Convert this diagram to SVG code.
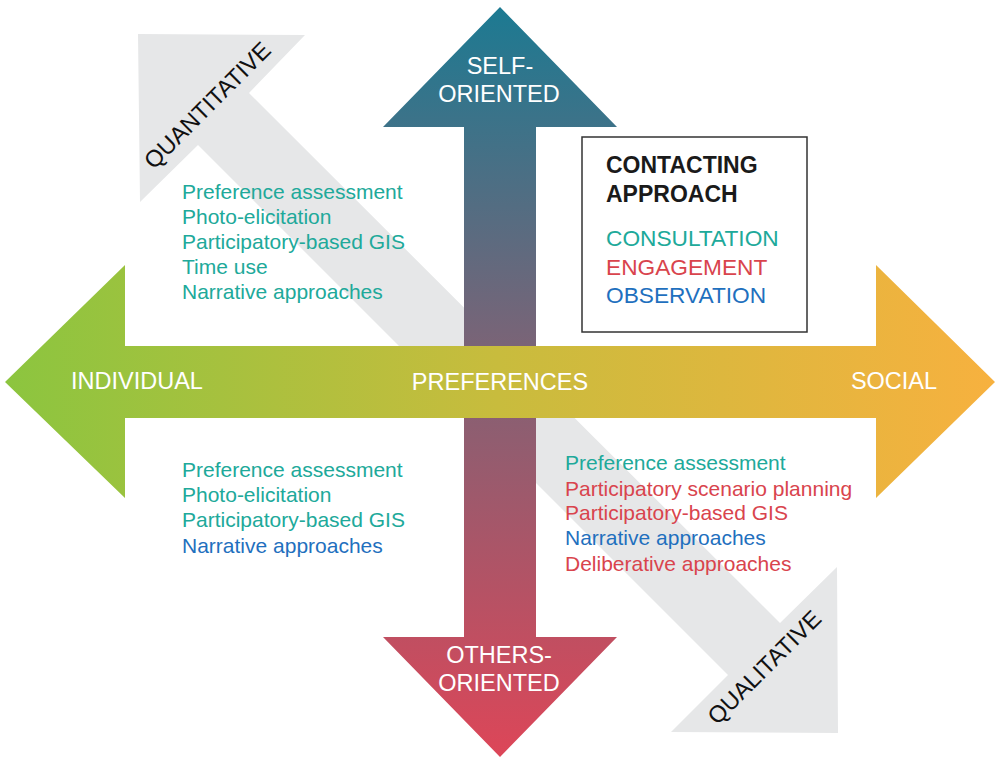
<svg xmlns="http://www.w3.org/2000/svg" width="995" height="758" viewBox="0 0 995 758">
<defs>
<linearGradient id="gH" x1="0" y1="0" x2="995" y2="0" gradientUnits="userSpaceOnUse">
<stop offset="0" stop-color="#8bc53f"/>
<stop offset="0.5" stop-color="#c8bc3d"/>
<stop offset="1" stop-color="#f7b13f"/>
</linearGradient>
<linearGradient id="gV" x1="0" y1="7" x2="0" y2="757" gradientUnits="userSpaceOnUse">
<stop offset="0" stop-color="#1c7a92"/>
<stop offset="0.45" stop-color="#7a6477"/>
<stop offset="1" stop-color="#dd4658"/>
</linearGradient>
<style>
text{font-family:"Liberation Sans",Arial,sans-serif}
.lab{fill:#ffffff;font-size:23.5px;text-anchor:middle}
.diag{fill:#111111;font-size:23.5px;text-anchor:middle}
.item{font-size:21px}
.c{fill:#20a99a}
.e{fill:#d9444d}
.o{fill:#1f70be}
.hd{fill:#1a1a1a;font-size:23px;font-weight:bold}
.key{font-size:22.7px}
</style>
</defs>
<g id="axis-quant-qual">
<polygon points="138,34 305,35 249,93 780,623 837,567 838,733 671,732 728,675 198,145 140,202" fill="#e6e7e8"/>
<text class="diag" transform="translate(213,111) rotate(-45)">QUANTITATIVE</text>
<text class="diag" transform="translate(770,673) rotate(-45)">QUALITATIVE</text>
</g>
<g id="axis-self-others">
<polygon points="500,7 617,127 536,127 536,637 617,637 500,757 383,637 464,637 464,127 383,127" fill="url(#gV)"/>
<text class="lab" x="500" y="74">SELF-</text>
<text class="lab" x="499" y="102">ORIENTED</text>
<text class="lab" x="499" y="663">OTHERS-</text>
<text class="lab" x="499" y="691">ORIENTED</text>
</g>
<g id="axis-individual-social">
<polygon points="5,382 125,265 125,346 876,346 876,265 995,382 876,498 876,418 125,418 125,498" fill="url(#gH)"/>
<text class="lab" x="137" y="389">INDIVIDUAL</text>
<text class="lab" x="500" y="390">PREFERENCES</text>
<text class="lab" x="894" y="389">SOCIAL</text>
</g>
<g id="legend">
<rect x="582" y="137" width="225" height="195" fill="#ffffff" stroke="#333333" stroke-width="1.5"/>
<text class="hd" x="606" y="173">CONTACTING</text>
<text class="hd" x="606" y="202">APPROACH</text>
<text class="key c" x="606" y="246">CONSULTATION</text>
<text class="key e" x="606" y="275">ENGAGEMENT</text>
<text class="key o" x="606" y="303">OBSERVATION</text>
</g>
<g id="quadrant-top-left">
<text class="item c" x="182" y="199">Preference assessment</text>
<text class="item c" x="182" y="224">Photo-elicitation</text>
<text class="item c" x="182" y="249">Participatory-based GIS</text>
<text class="item c" x="182" y="274">Time use</text>
<text class="item c" x="182" y="299">Narrative approaches</text>
</g>
<g id="quadrant-bottom-left">
<text class="item c" x="182" y="477">Preference assessment</text>
<text class="item c" x="182" y="502">Photo-elicitation</text>
<text class="item c" x="182" y="527">Participatory-based GIS</text>
<text class="item o" x="182" y="553">Narrative approaches</text>
</g>
<g id="quadrant-bottom-right">
<text class="item c" x="565" y="470">Preference assessment</text>
<text class="item e" x="565" y="496">Participatory scenario planning</text>
<text class="item e" x="565" y="520">Participatory-based GIS</text>
<text class="item o" x="565" y="545">Narrative approaches</text>
<text class="item e" x="565" y="571">Deliberative approaches</text>
</g>
</svg>
